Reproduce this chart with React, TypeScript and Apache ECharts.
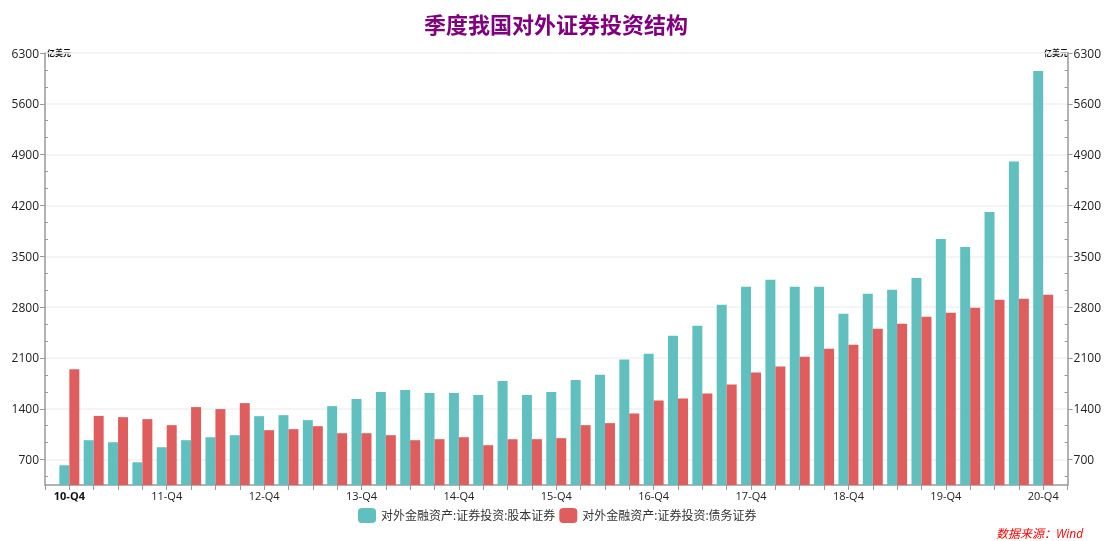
import React, { useEffect, useRef } from "react";
import * as echarts from "echarts";

const years = ["11", "12", "13", "14", "15", "16", "17", "18", "19", "20"];
const categories: string[] = ["10-Q4"];
years.forEach((y) => ["Q1", "Q2", "Q3", "Q4"].forEach((q) => categories.push(`${y}-${q}`)));

const equityValues = [
  621, 967, 939, 663, 870, 967, 1008, 1036, 1298, 1312, 1243,
  1436, 1533, 1630, 1657, 1616, 1616, 1588, 1782, 1588, 1630,
  1795, 1868, 2077, 2159, 2406, 2544, 2833, 3080, 3176, 3080,
  3080, 2709, 2983, 3038, 3202, 3738, 3628, 4109, 4807, 6051,
];
const debtValues = [
  1943, 1302, 1284, 1257, 1174, 1423, 1395, 1478, 1105, 1119, 1160,
  1063, 1063, 1036, 967, 981, 1008, 898, 981, 981, 995,
  1174, 1202, 1335, 1514, 1541, 1610, 1734, 1898, 1981, 2118,
  2228, 2283, 2502, 2571, 2667, 2722, 2790, 2900, 2914, 2969,
];
const seriesNames = ["对外金融资产:证券投资:股本证券", "对外金融资产:证券投资:债务证券"];
const colors = ["#60C0C0", "#E05D5E"];
const yTicks = [700, 1400, 2100, 2800, 3500, 4200, 4900, 5600, 6300];
const yMin = 350;
const yMax = 6300;

// padded with an empty slot at each end (the original axis has no boundary gap)
const axisCats = ["", ...categories, ""];
const padded = (arr: number[]) => [null, ...arr, null];
// minor tick positions: thirds between the major ticks
const minorTicks: number[] = [];
yTicks.forEach((t) => {
  const step = 700 / 3;
  [t - 2 * step, t - step].forEach((m) => {
    if (m > yMin) minorTicks.push(Math.round(m));
  });
});

const FONT = "'Open Sans', 'Noto Sans CJK SC', sans-serif";

export default function App() {
  const ref = useRef<HTMLDivElement>(null);
  useEffect(() => {
    if (!ref.current) return;
    const chart = echarts.init(ref.current, undefined, { renderer: "svg" });
    const yAxisBase = (pos: "left" | "right") => ({
      type: "value" as const,
      position: pos,
      min: yMin,
      max: yMax,
      axisLine: { show: true, lineStyle: { color: "#999", width: 1.5 } },
      axisTick: { show: true, length: 5, customValues: yTicks, lineStyle: { color: "#999" } },
      axisLabel: {
        show: true,
        margin: 6,
        color: "#222",
        fontSize: 12,
        fontFamily: FONT,
        customValues: yTicks,
        formatter: (v: number) => String(v),
      },
      splitLine: { show: pos === "left", lineStyle: { color: "#f0f0f0", width: 1.5 } },
    });
    const yAxisMinor = (pos: "left" | "right") => ({
      type: "value" as const,
      position: pos,
      min: yMin,
      max: yMax,
      axisLine: { show: false },
      axisTick: {
        show: true,
        inside: true,
        length: 3,
        customValues: minorTicks,
        lineStyle: { color: "#999" },
      },
      axisLabel: { show: false },
      splitLine: { show: false },
    });
    chart.setOption({
      animation: false,
      title: {
        text: "季度我国对外证券投资结构",
        left: 551,
        textAlign: "center",
        top: 8,
        textStyle: { color: "#800080", fontSize: 22, fontWeight: "bold", fontFamily: FONT },
      },
      grid: { left: 45, right: 35, top: 53, bottom: 56, containLabel: false },
      legend: {
        data: seriesNames,
        left: 358,
        top: 508,
        padding: 0,
        itemWidth: 18,
        itemHeight: 15,
        itemGap: 4,
        icon: "roundRect",
        textStyle: { fontSize: 12, color: "#333", fontFamily: FONT },
      },
      xAxis: {
        type: "category",
        data: axisCats,
        boundaryGap: false,
        axisLine: { lineStyle: { color: "#999", width: 1.5 } },
        axisTick: { show: true, interval: 0, length: 5, lineStyle: { color: "#999" } },
        axisLabel: {
          interval: (_i: number, v: string) => v.endsWith("Q4"),
          fontSize: 11,
          color: "#222",
          margin: 5,
          fontFamily: FONT,
          formatter: (v: string) => (v === "10-Q4" ? `{b|${v}}` : v),
          rich: { b: { fontWeight: "bold", fontSize: 11, color: "#111", fontFamily: FONT } },
        },
      },
      yAxis: [yAxisBase("left"), yAxisBase("right"), yAxisMinor("left"), yAxisMinor("right")],
      graphic: [
        {
          type: "text",
          left: 47,
          top: 48,
          style: { text: "亿美元", fontSize: 8, fontWeight: "bold", fill: "#111", fontFamily: FONT },
        },
        {
          type: "text",
          left: 1044,
          top: 48,
          style: { text: "亿美元", fontSize: 8, fontWeight: "bold", fill: "#111", fontFamily: FONT },
        },
        {
          type: "text",
          left: 996,
          top: 527,
          style: {
            text: "数据来源：Wind",
            fontSize: 12,
            fontStyle: "italic",
            fill: "#FF0000",
            fontFamily: FONT,
          },
        },
      ],
      series: [
        {
          name: seriesNames[0],
          type: "bar",
          data: padded(equityValues),
          itemStyle: { color: colors[0] },
          barGap: "0%",
          barCategoryGap: "18%",
        },
        {
          name: seriesNames[1],
          type: "bar",
          data: padded(debtValues),
          itemStyle: { color: colors[1] },
          barGap: "0%",
          barCategoryGap: "18%",
        },
      ],
    });
    return () => chart.dispose();
  }, []);
  return (
    <div
      ref={ref}
      style={{ position: "fixed", left: 0, top: 0, width: 1104, height: 541 }}
    />
  );
}
